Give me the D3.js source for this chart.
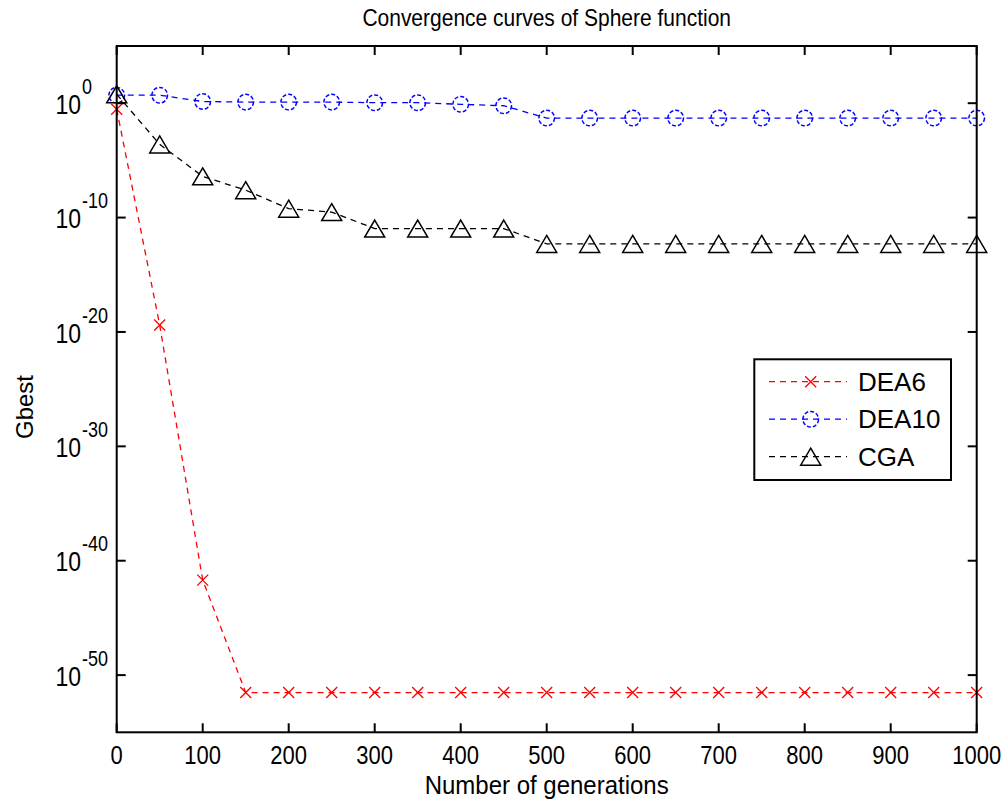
<!DOCTYPE html>
<html>
<head>
<meta charset="utf-8">
<script src="https://cdn.jsdelivr.net/npm/d3@7"></script>
<style>
  body { margin: 0; background: #fff; }
  text { font-family: "Liberation Sans", Arial, sans-serif; fill: #000; }
</style>
</head>
<body>
<svg id="chart"></svg>
<script>
const width = 1008;
const height = 807;

// data
const generations = [0, 50, 100, 150, 200, 250, 300, 350, 400, 450, 500,
  550, 600, 650, 700, 750, 800, 850, 900, 950, 1000];
const dea6 = [0.3, 4e-20, 2e-42, 3e-52, 3e-52, 3e-52, 3e-52, 3e-52, 3e-52, 3e-52, 3e-52,
  3e-52, 3e-52, 3e-52, 3e-52, 3e-52, 3e-52, 3e-52, 3e-52, 3e-52, 3e-52];
const dea10 = [5, 5, 1.4, 1.25, 1.25, 1.25, 1.1, 1.1, 0.8, 0.6, 0.05,
  0.05, 0.05, 0.05, 0.05, 0.05, 0.05, 0.05, 0.05, 0.05, 0.05];
const cga = [6, 2.5e-4, 4e-7, 2.5e-8, 6e-10, 3e-10, 1.1e-11, 1.1e-11, 1.1e-11, 1.1e-11, 5e-13,
  5e-13, 5e-13, 5e-13, 5e-13, 5e-13, 5e-13, 5e-13, 5e-13, 5e-13, 5e-13];
const xTicks = [0, 100, 200, 300, 400, 500, 600, 700, 800, 900, 1000];
const yTickExps = [0, -10, -20, -30, -40, -50];

const series = [
  { name: 'DEA6', values: dea6, color: '#ff0000', marker: 'x' },
  { name: 'DEA10', values: dea10, color: '#0000ff', marker: 'o' },
  { name: 'CGA', values: cga, color: '#000000', marker: '^' }
];

const plot = { left: 116.7, right: 976.7, top: 46, bottom: 732.3 };

const svg = d3.select('#chart')
  .attr('width', width)
  .attr('height', height);

const x = d3.scaleLinear().domain([0, 1000]).range([plot.left, plot.right]);
const y = d3.scaleLog().domain([1e-55, 1e5]).range([plot.bottom, plot.top]);

// text slightly stretched vertically, like the matlab export
const label = (g, tx, ty, str, size, anchor, sy = 1.18) =>
  g.append('text')
    .attr('transform', `translate(${tx},${ty}) scale(1,${sy})`)
    .attr('text-anchor', anchor)
    .attr('dominant-baseline', 'central')
    .style('font-size', size + 'px')
    .text(str);

// markers
const drawMarker = (g, type, cx, cy, color) => {
  if (type === 'x') {
    const s = 5.5;
    g.append('path')
      .attr('d', `M${cx - s},${cy - s}L${cx + s},${cy + s}M${cx - s},${cy + s}L${cx + s},${cy - s}`)
      .attr('stroke', color).attr('stroke-width', 1.3).attr('fill', 'none');
  } else if (type === 'o') {
    g.append('circle')
      .attr('cx', cx).attr('cy', cy).attr('r', 7.8)
      .attr('stroke', color).attr('stroke-width', 1.5).attr('fill', 'none')
      .attr('stroke-dasharray', '4,2');
  } else {
    const w = 10, h = 8.5;
    g.append('path')
      .attr('d', `M${cx},${cy - h}L${cx + w},${cy + h}L${cx - w},${cy + h}Z`)
      .attr('stroke', color).attr('stroke-width', 1.5).attr('fill', 'none');
  }
};

// lines
const line = d3.line()
  .x((d, i) => x(generations[i]))
  .y(d => y(d));

const lines = svg.append('g');
series.forEach(s => {
  lines.append('path')
    .datum(s.values)
    .attr('d', line)
    .attr('fill', 'none')
    .attr('stroke', s.color)
    .attr('stroke-width', 1.3)
    .attr('stroke-dasharray', '6,5');
  const mg = lines.append('g');
  s.values.forEach((v, i) => drawMarker(mg, s.marker, x(generations[i]), y(v), s.color));
});

// axes box and ticks (inward, on all four sides)
const axes = svg.append('g');
axes.append('rect')
  .attr('x', plot.left).attr('y', plot.top)
  .attr('width', plot.right - plot.left).attr('height', plot.bottom - plot.top)
  .attr('fill', 'none').attr('stroke', '#000').attr('stroke-width', 2);

const tickLen = 9;
xTicks.forEach(t => {
  const px = x(t);
  axes.append('line').attr('x1', px).attr('x2', px)
    .attr('y1', plot.bottom).attr('y2', plot.bottom - tickLen)
    .attr('stroke', '#000').attr('stroke-width', 2);
  axes.append('line').attr('x1', px).attr('x2', px)
    .attr('y1', plot.top).attr('y2', plot.top + tickLen)
    .attr('stroke', '#000').attr('stroke-width', 2);
  label(axes, px, 755, t, 22, 'middle');
});

yTickExps.forEach(e => {
  const py = y(Math.pow(10, e));
  axes.append('line').attr('x1', plot.left).attr('x2', plot.left + tickLen)
    .attr('y1', py).attr('y2', py)
    .attr('stroke', '#000').attr('stroke-width', 2);
  axes.append('line').attr('x1', plot.right).attr('x2', plot.right - tickLen)
    .attr('y1', py).attr('y2', py)
    .attr('stroke', '#000').attr('stroke-width', 2);
  label(axes, 81, py + 1, '10', 23, 'end');
  label(axes, 82, py - 17, e, 18, 'start');
});

// titles
label(svg, (plot.left + plot.right) / 2, 17, 'Convergence curves of Sphere function', 21, 'middle');
label(svg, (plot.left + plot.right) / 2, 785, 'Number of generations', 24, 'middle', 1.05);
svg.append('text')
  .attr('transform', `translate(24,407) rotate(-90)`)
  .attr('text-anchor', 'middle')
  .attr('dominant-baseline', 'central')
  .style('font-size', '24px')
  .text('Gbest');

// legend
const legend = svg.append('g');
legend.append('rect')
  .attr('x', 754.3).attr('y', 359.3).attr('width', 196.7).attr('height', 120.7)
  .attr('fill', '#fff').attr('stroke', '#000').attr('stroke-width', 2);
series.forEach((s, i) => {
  const ly = 381.7 + i * 37.5;
  legend.append('line')
    .attr('x1', 769).attr('x2', 847).attr('y1', ly).attr('y2', ly)
    .attr('stroke', s.color).attr('stroke-width', 1.3).attr('stroke-dasharray', '6,5');
  drawMarker(legend, s.marker, 810.7, ly, s.color);
  label(legend, 858, ly, s.name, 26, 'start', 1);
});
</script>
</body>
</html>
